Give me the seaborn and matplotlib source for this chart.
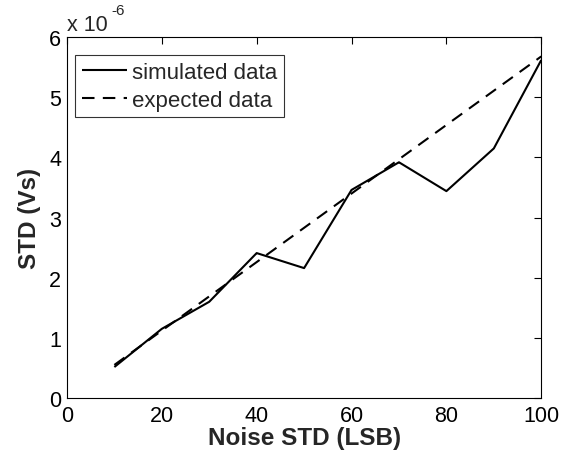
import numpy as np
import pandas as pd
import matplotlib
matplotlib.use('Agg')
import matplotlib.pyplot as plt
import seaborn as sns

# values (units of 1e-6 Vs)
noise_std = [10, 20, 30, 40, 50, 60, 70, 80, 90, 100]
simulated = [0.515, 1.15, 1.60, 2.41, 2.16, 3.46, 3.92, 3.44, 4.15, 5.62]
expected = [0.55, 1.12, 1.69, 2.26, 2.83, 3.40, 3.97, 4.54, 5.11, 5.68]

df = pd.DataFrame({
    'noise': noise_std * 2,
    'std': simulated + expected,
    'series': ['simulated data'] * len(noise_std) + ['expected data'] * len(noise_std),
})

sns.set_style('white')
plt.rcParams['font.family'] = ['Liberation Sans', 'DejaVu Sans']

fig = plt.figure(figsize=(5.82, 4.6), dpi=100)
ax = fig.add_axes([0.115, 0.1326, 0.815, 0.7844])

sns.lineplot(data=df, x='noise', y='std', hue='series', style='series',
             palette=['black', 'black'], dashes=[(1, 0), (6, 4)],
             linewidth=1.5, ax=ax)

ax.set_xlim(0, 100)
ax.set_ylim(0, 6)
ax.set_xticks([0, 20, 40, 60, 80, 100])
ax.set_yticks([0, 1, 2, 3, 4, 5, 6])
ax.tick_params(direction='in', length=5, width=0.8, top=True, right=True,
               labelsize=15.5, colors='black')
ax.tick_params(axis='x', pad=5)
ax.tick_params(axis='y', pad=4)
for s in ax.spines.values():
    s.set_color('black')
    s.set_linewidth(0.8)

ax.set_xlabel('Noise STD (LSB)', fontsize=17.5, fontweight='bold', labelpad=0)
ax.set_ylabel('STD (Vs)', fontsize=17.5, fontweight='bold', labelpad=6)

# MATLAB-style exponent label above the y axis
ax.text(0.0, 1.019, 'x 10', transform=ax.transAxes, fontsize=15.5,
        ha='left', va='baseline')
ax.text(0.094, 1.064, '-6', transform=ax.transAxes, fontsize=11,
        ha='left', va='baseline')

leg = ax.legend(loc='upper left', bbox_to_anchor=(0.017, 0.95), borderaxespad=0,
                fontsize=16, frameon=True, fancybox=False, edgecolor='black',
                handlelength=2.05, handletextpad=0.2, borderpad=0.3,
                labelspacing=0.3)
leg.get_frame().set_linewidth(0.8)

fig.savefig('out.png', dpi=100, facecolor='white')
